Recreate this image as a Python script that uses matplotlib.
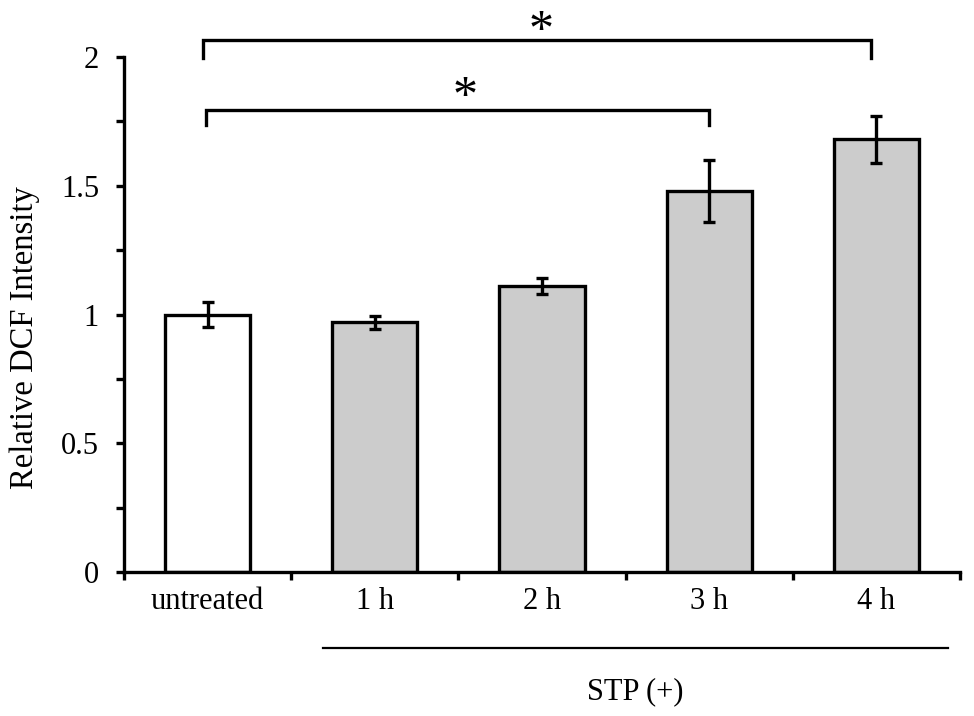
import matplotlib
matplotlib.use("Agg")
import matplotlib.pyplot as plt
import matplotlib.transforms as mtransforms
import numpy as np

categories = ["untreated", "1 h", "2 h", "3 h", "4 h"]
values = [1.00, 0.97, 1.11, 1.48, 1.68]
errors = [0.05, 0.025, 0.03, 0.12, 0.09]
colors = ["white", "#cccccc", "#cccccc", "#cccccc", "#cccccc"]
yticks = [0, 0.5, 1, 1.5, 2]
ytick_labels = ["0", "0.5", "1", "1.5", "2"]

plt.rcParams['font.family'] = ['Liberation Serif', 'DejaVu Serif']

fig = plt.figure(figsize=(9.74, 7.16), dpi=100)
ax = fig.add_axes([124/974, 1-572/716, (960-124)/974, (572-57)/716])

x = np.arange(len(categories))
ax.bar(x, values, width=0.51, color=colors, edgecolor="black", linewidth=2.4, zorder=2)
ax.errorbar(x, values, yerr=errors, fmt="none", ecolor="black", elinewidth=2.4,
            capsize=4.5, capthick=2.4, zorder=3)

ax.set_xlim(-0.5, 4.5)
ax.set_ylim(0, 2)
for s in ["top", "right"]:
    ax.spines[s].set_visible(False)
for s in ["left", "bottom"]:
    ax.spines[s].set_linewidth(2.4)

ax.set_yticks(yticks)
ax.set_yticklabels(ytick_labels, fontsize=22)
ax.set_yticks(np.arange(0.25, 2, 0.5), minor=True)
ax.tick_params(axis="y", which="both", direction="out", length=6, width=2.4, pad=12)

ax.set_xticks(np.arange(-0.5, 5, 1))
ax.set_xticklabels([])
ax.set_xticks(x, minor=True)
ax.set_xticklabels(categories, minor=True, fontsize=22)
ax.tick_params(axis="x", which="major", direction="out", length=6, width=2.4)
ax.tick_params(axis="x", which="minor", length=0, pad=11)

ax.set_ylabel("Relative DCF Intensity", fontsize=23.5)
ax.yaxis.set_label_coords(-0.1, 0.455)

# significance brackets
def bracket(x0, x1, y, h, label, ystar, dx):
    ax.plot([x0, x0, x1, x1], [y - h, y, y, y - h], color="black", lw=2.4,
            clip_on=False, solid_joinstyle="miter")
    ax.text((x0 + x1) / 2 + dx, ystar, label, ha="center", va="center",
            fontsize=36, clip_on=False)

bracket(-0.03, 3.97, 2.065, 0.07, "*", 2.10, 0.025)
bracket(-0.01, 3.0, 1.795, 0.06, "*", 1.84, 0.045)

# STP (+) group line
trans = mtransforms.blended_transform_factory(ax.transData, ax.transAxes)
ax.plot([0.69, 4.43], [-0.148, -0.148], color="black", lw=1.6, transform=trans, clip_on=False)
ax.text(2.56, -0.232, "STP (+)", ha="center", va="center", fontsize=22, transform=trans)

fig.savefig("out.png", dpi=100)
